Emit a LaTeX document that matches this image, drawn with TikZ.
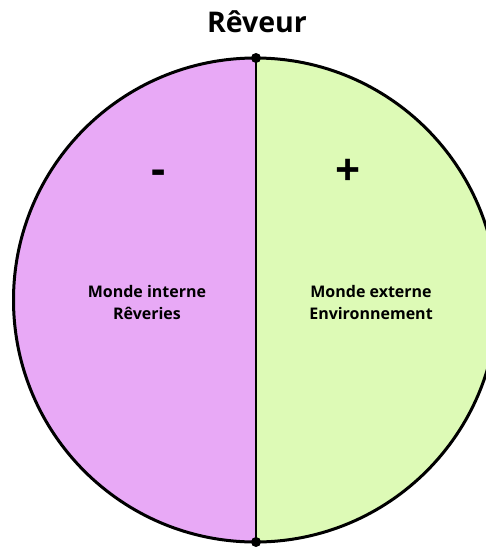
\documentclass[tikz,border=0pt]{standalone}
\usepackage{fontspec}
\setmainfont{Open Sans}
\definecolor{leftfill}{RGB}{232,169,246}
\definecolor{rightfill}{RGB}{221,250,182}
\tikzset{
  halftext/.style={font=\bfseries\fontsize{16}{22}\selectfont, align=center, text=black},
  signtext/.style={font=\bfseries\fontsize{44}{44}\selectfont, text=black},
  titletext/.style={font=\bfseries\fontsize{28.5}{30}\selectfont, text=black},
  rim/.style={draw=black, line width=3pt},
  divider/.style={draw=black, line width=2.4pt},
  enddot/.style={circle, fill=black, inner sep=0pt, minimum size=10pt}
}
\begin{document}
\begin{tikzpicture}[x=1pt,y=-1pt]
\useasboundingbox (0,0) rectangle (486,547);
\clip (0,0) rectangle (486,547);
\fill[white] (0,0) rectangle (486,547);
\coordinate (c) at (255.5,300);
\coordinate (top) at (256,58);
\coordinate (bot) at (256,542);
\begin{scope}
  \clip (c) circle (242);
  \fill[leftfill] (0,0) rectangle (256,547);
  \fill[rightfill] (256,0) rectangle (486,547);
\end{scope}
\draw[rim] (c) circle (242);
\draw[divider] (top) -- (bot);
\node[enddot] (d1) at (top) {};
\node[enddot] (d2) at (bot) {};
\node[titletext] (title) at (257,22) {Rêveur};
\node[signtext] (minus) at (159,177) {-};
\node[signtext] (plus) at (348,172) {+};
\node[halftext] (left) at (147,302) {Monde interne\\Rêveries};
\node[halftext] (right) at (371,302) {Monde externe\\Environnement};
\end{tikzpicture}
\end{document}
